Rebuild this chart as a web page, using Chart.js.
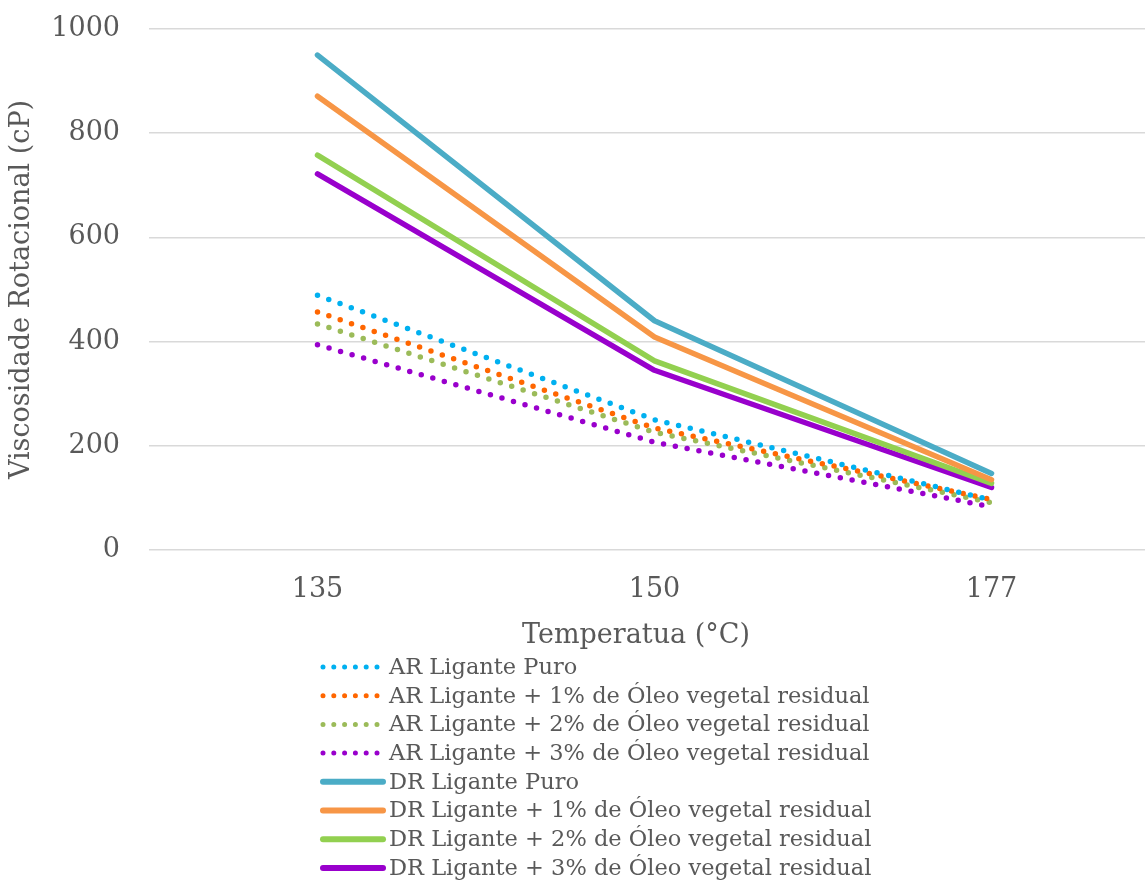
<!DOCTYPE html>
<html>
<head>
<meta charset="utf-8">
<script src="https://cdn.jsdelivr.net/npm/chart.js@4"></script>
<style>
  html, body { margin: 0; padding: 0; background: #fff; overflow: hidden; }
  #wrap { width: 1160px; height: 881px; }
</style>
</head>
<body>
<div id="wrap"><canvas id="chart-visc" width="1160" height="881"></canvas></div>
<script>
const temperatures = ["135", "150", "177"];
const yTicks = [0, 200, 400, 600, 800, 1000];

// AR = antes do RTFO, DR = depois do RTFO
const arPuro = [489, 250, 96];
const arOleo1 = [457, 234, 97];
const arOleo2 = [434, 226, 91];
const arOleo3 = [394, 207, 83];
const drPuro = [950, 440, 147];
const drOleo1 = [871, 409, 135];
const drOleo2 = [758, 363, 128];
const drOleo3 = [722, 345, 120];

const labels = [
  "AR Ligante Puro",
  "AR Ligante + 1% de Óleo vegetal residual",
  "AR Ligante + 2% de Óleo vegetal residual",
  "AR Ligante + 3% de Óleo vegetal residual",
  "DR Ligante Puro",
  "DR Ligante + 1% de Óleo vegetal residual",
  "DR Ligante + 2% de Óleo vegetal residual",
  "DR Ligante + 3% de Óleo vegetal residual",
];
const colors = ["#00B0F0", "#FF6600", "#9BBB59", "#9900CC", "#4BACC6", "#F79646", "#92D050", "#9900CC"];
const series = [arPuro, arOleo1, arOleo2, arOleo3, drPuro, drOleo1, drOleo2, drOleo3];
const xTitle = "Temperatua (°C)";
const yTitle = "Viscosidade Rotacional (cP)";

const FONT = "'DejaVu Serif', 'Liberation Serif', serif";
const GREY = "#595959";

const datasets = series.map((data, i) => {
  const dotted = i < 4;
  return {
    label: labels[i],
    data: data,
    borderColor: colors[i],
    backgroundColor: colors[i],
    borderWidth: 5.5,
    borderDash: dotted ? [0, 12] : [],
    borderCapStyle: "round",
    borderJoinStyle: "round",
    pointRadius: 0,
    tension: 0,
    fill: false,
    order: dotted ? 1 : 0,
  };
});

// x title and legend drawn by hand: the legend is one item per row
const listLegend = {
  id: "listLegend",
  afterDraw(chart) {
    const ctx = chart.ctx;
    ctx.save();
    ctx.fillStyle = GREY;
    ctx.textBaseline = "middle";
    ctx.textAlign = "center";
    ctx.font = "27px " + FONT;
    ctx.fillText(xTitle, 636, 636);
    ctx.textAlign = "left";
    ctx.font = "22.5px " + FONT;
    chart.data.datasets.forEach((ds, i) => {
      const y = 667 + i * 28.7;
      const dotted = ds.borderDash.length > 0;
      ctx.beginPath();
      ctx.strokeStyle = ds.borderColor;
      ctx.lineWidth = dotted ? 5 : 6;
      ctx.lineCap = "round";
      ctx.setLineDash(dotted ? [0, 10.8] : []);
      ctx.moveTo(323, y);
      ctx.lineTo(dotted ? 378 : 383, y);
      ctx.stroke();
      ctx.setLineDash([]);
      ctx.fillText(ds.label, 389, y + 1);
    });
    ctx.restore();
  },
};

new Chart(document.getElementById("chart-visc"), {
  type: "line",
  data: { labels: temperatures, datasets: datasets },
  plugins: [listLegend],
  options: {
    responsive: false,
    animation: false,
    layout: { padding: { top: 29, bottom: 221, left: 0, right: 0 } },
    plugins: {
      legend: { display: false },
      tooltip: { enabled: false },
    },
    scales: {
      x: {
        offset: true,
        grid: { display: false, drawTicks: false },
        border: { display: false },
        ticks: { color: GREY, font: { family: FONT, size: 27 }, padding: 24 },
        afterFit(scale) { scale.height = 110; },
      },
      y: {
        min: 0,
        max: 1000,
        afterBuildTicks(scale) { scale.ticks = yTicks.map(v => ({ value: v })); },
        grid: { color: "#D9D9D9", lineWidth: 1.5, drawTicks: true, tickLength: 15, tickColor: "rgba(0,0,0,0)" },
        border: { display: false },
        ticks: {
          color: GREY,
          font: { family: FONT, size: 27, lineHeight: 1 },
          padding: 14,
          callback: v => String(v),
        },
        title: {
          display: true,
          text: yTitle,
          color: GREY,
          font: { family: FONT, size: 27 },
          padding: { top: 6, bottom: 0 },
        },
        afterFit(scale) { scale.width = 149; },
      },
    },
  },
});
</script>
</body>
</html>
